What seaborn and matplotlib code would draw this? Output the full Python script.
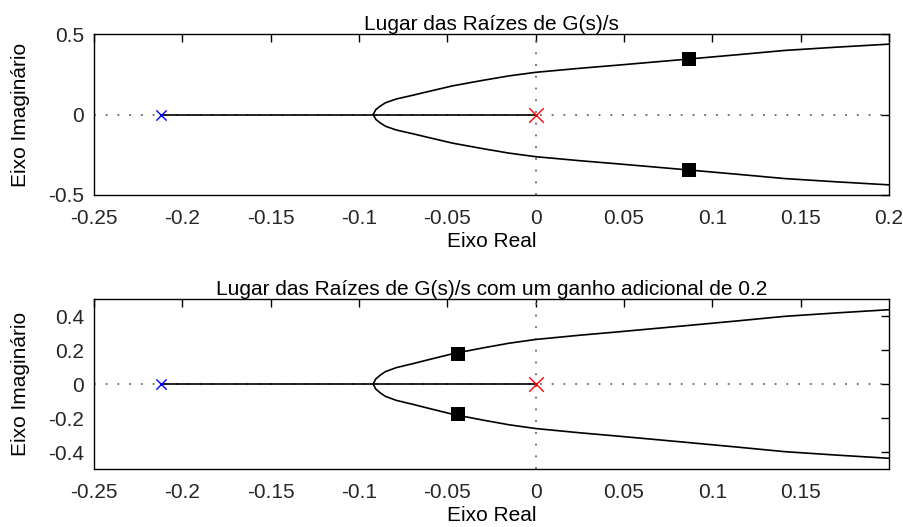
import matplotlib
matplotlib.use("Agg")
import matplotlib.pyplot as plt
import seaborn as sns
import pandas as pd
from matplotlib.ticker import FixedLocator, FixedFormatter

# ---------------- data ----------------
titles = ["Lugar das Raízes de G(s)/s",
          "Lugar das Raízes de G(s)/s com um ganho adicional de 0.2"]
x_label = "Eixo Real"
y_label = "Eixo Imaginário"

pole_blue_x = [-0.212]
pole_red_x = [0.0]
real_segment_x = [-0.212, 0.0]

branch_x = [-0.092, -0.0905, -0.088, -0.085, -0.079, -0.069, -0.061, -0.047,
            -0.030, -0.015, 0.0, 0.025, 0.047, 0.085, 0.115, 0.141, 0.170, 0.200]
branch_y = [0.0, 0.030, 0.052, 0.073, 0.096, 0.121, 0.142, 0.178,
            0.212, 0.240, 0.262, 0.287, 0.307, 0.343, 0.372, 0.398, 0.418, 0.437]

gain_x = [0.087, -0.044]      # closed-loop poles (top, bottom plot)
gain_y = [0.343, 0.177]

xticks_top = [-0.25, -0.2, -0.15, -0.1, -0.05, 0, 0.05, 0.1, 0.15, 0.2]
xticks_bot = [-0.25, -0.2, -0.15, -0.1, -0.05, 0, 0.05, 0.1, 0.15]
yticks_top = [-0.5, 0, 0.5]
yticks_bot = [-0.4, -0.2, 0, 0.2, 0.4]

# ---------------- style ----------------
sns.set_style("white")
plt.rcParams["font.family"] = ["Liberation Sans", "DejaVu Sans"]
plt.rcParams["axes.unicode_minus"] = False

fig = plt.figure(figsize=(9.04, 5.27), dpi=100)
W, H = 904, 527
def rect(l, t, r, b):
    return [l / W, 1 - b / H, (r - l) / W, (b - t) / H]

ax_top = fig.add_axes(rect(94, 34, 889, 195))
ax_bot = fig.add_axes(rect(94, 299, 889, 469))

fs = 15
configs = [
    (ax_top, titles[0], xticks_top, yticks_top, gain_x[0], gain_y[0]),
    (ax_bot, titles[1], xticks_bot, yticks_bot, gain_x[1], gain_y[1]),
]

for ax, title, xt, yt, gx, gy in configs:
    # dotted axis lines
    ax.axhline(0, color="0.4", linestyle=(0, (1, 5.5)), lw=1.3, zorder=1)
    ax.axvline(0, color="0.4", linestyle=(0, (1, 5.5)), lw=1.3, zorder=1)

    # real-axis locus segment
    seg = pd.DataFrame({"x": real_segment_x, "y": [0.0] * len(real_segment_x)})
    sns.lineplot(data=seg, x="x", y="y", ax=ax, color="black", lw=1.2,
                 sort=False, estimator=None, zorder=2)

    # complex branches
    up = pd.DataFrame({"x": branch_x, "y": branch_y})
    lo = pd.DataFrame({"x": branch_x, "y": [-v for v in branch_y]})
    sns.lineplot(data=up, x="x", y="y", ax=ax, color="black", lw=1.2,
                 sort=False, estimator=None, zorder=2)
    sns.lineplot(data=lo, x="x", y="y", ax=ax, color="black", lw=1.2,
                 sort=False, estimator=None, zorder=2)

    # open-loop poles
    sns.scatterplot(x=pole_blue_x, y=[0.0], ax=ax, marker="x", color="blue",
                    s=55, linewidth=1.0, zorder=4)
    sns.scatterplot(x=pole_red_x, y=[0.0], ax=ax, marker="x", color="red",
                    s=110, linewidth=1.0, zorder=4)

    # closed-loop poles for the chosen gain
    sns.scatterplot(x=[gx, gx], y=[gy, -gy], ax=ax, marker="s", color="black",
                    s=110, linewidth=0, zorder=5)

    ax.set_xlim(-0.25, 0.2)
    ax.set_ylim(-0.5, 0.5)
    ax.xaxis.set_major_locator(FixedLocator(xt))
    ax.xaxis.set_major_formatter(FixedFormatter([f"{v:g}" for v in xt]))
    ax.yaxis.set_major_locator(FixedLocator(yt))
    ax.yaxis.set_major_formatter(FixedFormatter([f"{v:g}" for v in yt]))
    ax.tick_params(direction="in", top=True, right=True, length=5.5,
                   width=1.0, color="black", labelsize=fs)
    ax.tick_params(axis="x", pad=10)
    ax.tick_params(axis="y", pad=7)
    for sp in ax.spines.values():
        sp.set_color("black")
        sp.set_linewidth(1.0)
    ax.set_title(title, fontsize=fs, pad=3, color="black")
    ax.set_xlabel(x_label, fontsize=fs, labelpad=3, color="black")
    ax.set_ylabel(y_label, fontsize=fs, labelpad=13, color="black")

fig.savefig("out.png", dpi=100)
